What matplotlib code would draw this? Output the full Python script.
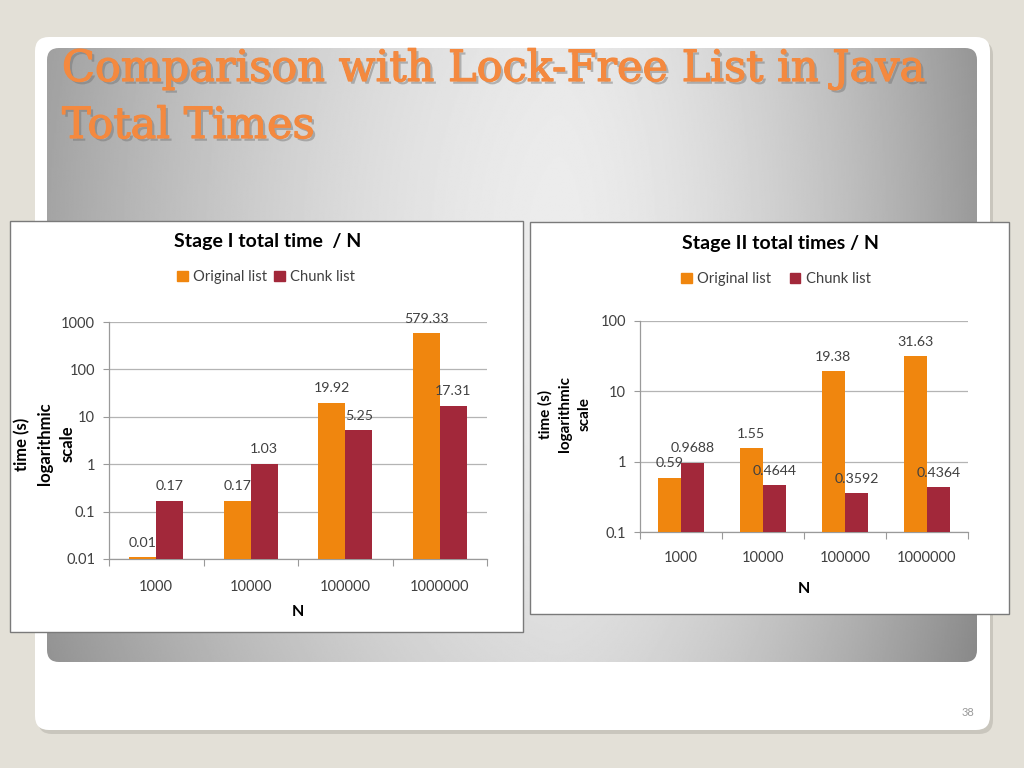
import numpy as np
import matplotlib
matplotlib.use('Agg')
import matplotlib.pyplot as plt
from matplotlib.patches import FancyBboxPatch, Rectangle, Patch
import matplotlib.patheffects as pe
from matplotlib.ticker import FixedLocator, NullFormatter

# ---- data ----
categories = ['1000', '10000', '100000', '1000000']
series_names = ['Original list', 'Chunk list']

stage1_original = [0.011, 0.17, 19.92, 579.33]
stage1_chunk = [0.17, 1.03, 5.25, 17.31]
stage1_original_labels = ['0.01', '0.17', '19.92', '579.33']
stage1_chunk_labels = ['0.17', '1.03', '5.25', '17.31']
stage1_ticks = [0.01, 0.1, 1, 10, 100, 1000]
stage1_ticklabels = ['0.01', '0.1', '1', '10', '100', '1000']

stage2_original = [0.59, 1.55, 19.38, 31.63]
stage2_chunk = [0.9688, 0.4644, 0.3592, 0.4364]
stage2_original_labels = ['0.59', '1.55', '19.38', '31.63']
stage2_chunk_labels = ['0.9688', '0.4644', '0.3592', '0.4364']
stage2_ticks = [0.1, 1, 10, 100]
stage2_ticklabels = ['0.1', '1', '10', '100']

ORANGE = '#F0860E'
RED = '#A2283A'
GRID = '#b4b4b4'
TXT = '#404040'
FONT = 'Lato'

W, H = 1024, 768
fig = plt.figure(figsize=(W / 100, H / 100), dpi=100)
fig.patch.set_facecolor('#e3e0d7')


def frac(x0, y0, x1, y1):
    """pixel box (top-left origin) -> figure fraction rect"""
    return [x0 / W, 1 - y1 / H, (x1 - x0) / W, (y1 - y0) / H]


# ---- slide background ----
bg = fig.add_axes([0, 0, 1, 1], zorder=-10)
bg.set_xlim(0, W)
bg.set_ylim(H, 0)
bg.axis('off')

bg.add_patch(FancyBboxPatch((38, 41), 955, 693, boxstyle='round,pad=0,rounding_size=14',
                            fc='#c9c6bd', ec='none', zorder=0))
bg.add_patch(FancyBboxPatch((35, 37), 955, 693, boxstyle='round,pad=0,rounding_size=14',
                            fc='white', ec='none', zorder=1))

gx0, gy0, gx1, gy1 = 47, 48, 977, 662
xs = np.linspace(gx0, gx1, 600)
ys = np.linspace(gy0, gy1, 400)
X, Y = np.meshgrid(xs, ys)
cx = 560
u = np.where(X < cx, (cx - X) / (cx - gx0), (X - cx) / (gx1 - cx))
v = np.abs(Y - 250) / 420
shade = 236 - np.where(X < cx, 72, 82) * u ** 1.6 - 18 * v ** 2
img = bg.imshow(shade, extent=(gx0, gx1, gy1, gy0), cmap='gray', vmin=0, vmax=255,
                interpolation='bilinear', aspect='auto', zorder=2)
clip = FancyBboxPatch((gx0, gy0), gx1 - gx0, gy1 - gy0, boxstyle='round,pad=0,rounding_size=12',
                      fc='none', ec='none', transform=bg.transData)
bg.add_patch(clip)
img.set_clip_path(clip)
bg.set_xlim(0, W)
bg.set_ylim(H, 0)

title_fx = [pe.withSimplePatchShadow(offset=(2, -2), shadow_rgbFace='#707070', alpha=0.45),
            pe.withStroke(linewidth=0.9, foreground='#F4893F')]
bg.text(62, 81, 'Comparison with Lock-Free List in Java', fontsize=31, color='#F4893F',
        family='DejaVu Serif', va='baseline', ha='left', zorder=5, path_effects=title_fx)
bg.text(62, 138, 'Total Times', fontsize=31, color='#F4893F',
        family='DejaVu Serif', va='baseline', ha='left', zorder=5, path_effects=title_fx)
bg.text(968, 713, '38', fontsize=8, color='#9a9a9a', ha='center', va='center', family=FONT)

# chart frames
bg.add_patch(Rectangle((10, 221), 513, 411, fc='white', ec='#7a7a7a', lw=1, zorder=6))
bg.add_patch(Rectangle((530, 222), 479, 392, fc='white', ec='#7a7a7a', lw=1, zorder=6))


def draw_chart(box, title, title_xy, legend_xy, ylabel_xy, ylabel_size, orig, chunk,
               orig_lab, chunk_lab, ticks, ticklabels, colspace, xpad, npad):
    ax = fig.add_axes(frac(*box), zorder=2)
    ax.set_facecolor('none')
    x = np.arange(len(categories))
    bw = 0.285
    ax.bar(x - bw / 2, orig, bw, color=ORANGE, zorder=3, label=series_names[0])
    ax.bar(x + bw / 2, chunk, bw, color=RED, zorder=3, label=series_names[1])
    ax.set_yscale('log')
    ax.set_ylim(ticks[0], ticks[-1])
    ax.set_xlim(-0.5, len(categories) - 0.5)

    ax.yaxis.set_major_locator(FixedLocator(ticks))
    ax.yaxis.set_minor_locator(FixedLocator([]))
    ax.set_yticklabels(ticklabels)
    ax.xaxis.set_major_locator(FixedLocator(np.arange(len(categories) + 1) - 0.5))
    ax.xaxis.set_major_formatter(NullFormatter())
    ax.xaxis.set_minor_locator(FixedLocator(x))
    ax.set_xticklabels(categories, minor=True)
    ax.tick_params(axis='x', which='major', length=5, color='#9a9a9a', direction='out')
    ax.tick_params(axis='x', which='minor', length=0, pad=xpad, labelsize=10.5, labelcolor=TXT)
    ax.tick_params(axis='y', length=4, color='#9a9a9a', pad=6, labelsize=10.5, labelcolor=TXT)
    for lab in ax.get_xticklabels(minor=True) + ax.get_yticklabels():
        lab.set_family(FONT)

    ax.grid(axis='y', which='major', color=GRID, lw=0.9, zorder=0)
    for s in ('top', 'right'):
        ax.spines[s].set_visible(False)
    for s in ('left', 'bottom'):
        ax.spines[s].set_color('#9a9a9a')
        ax.spines[s].set_linewidth(0.9)

    for xi, val, lab in zip(x - bw / 2, orig, orig_lab):
        ax.annotate(lab, (xi, val), xytext=(0, 6), textcoords='offset points', ha='center',
                    va='bottom', fontsize=10.2, color=TXT, family=FONT, zorder=5)
    for xi, val, lab in zip(x + bw / 2, chunk, chunk_lab):
        ax.annotate(lab, (xi, val), xytext=(0, 6), textcoords='offset points', ha='center',
                    va='bottom', fontsize=10.2, color=TXT, family=FONT, zorder=5)

    ax.set_xlabel('N', fontsize=11.5, fontweight='bold', family=FONT, labelpad=npad)

    fig.text(title_xy[0] / W, 1 - title_xy[1] / H, title, fontsize=14, fontweight='bold',
             family=FONT, ha='center', va='center', color='black')
    fig.text(ylabel_xy[0] / W, 1 - ylabel_xy[1] / H, 'time (s)\nlogarithmic\nscale',
             fontsize=ylabel_size, fontweight='bold', family=FONT, rotation=90, ha='center',
             va='center', multialignment='center', linespacing=1.5)

    handles = [Patch(color=ORANGE), Patch(color=RED)]
    fig.legend(handles, series_names, loc='center', ncol=2, frameon=False,
               bbox_to_anchor=(legend_xy[0] / W, 1 - legend_xy[1] / H),
               prop={'family': FONT, 'size': 10.6}, handlelength=0.7, handleheight=0.7,
               handletextpad=0.35, columnspacing=colspace, labelcolor=TXT)
    return ax


draw_chart((109, 322, 487, 559), 'Stage I total time  / N', (268, 241), (266, 277), (45, 444), 12,
           stage1_original, stage1_chunk, stage1_original_labels, stage1_chunk_labels,
           stage1_ticks, stage1_ticklabels, 0.5, 15, 8)
draw_chart((640, 321, 968, 532), 'Stage II total times / N', (780, 243), (776, 279), (565, 414), 11,
           stage2_original, stage2_chunk, stage2_original_labels, stage2_chunk_labels,
           stage2_ticks, stage2_ticklabels, 1.3, 14, 12)

fig.savefig('out.png', dpi=100, facecolor=fig.get_facecolor())
